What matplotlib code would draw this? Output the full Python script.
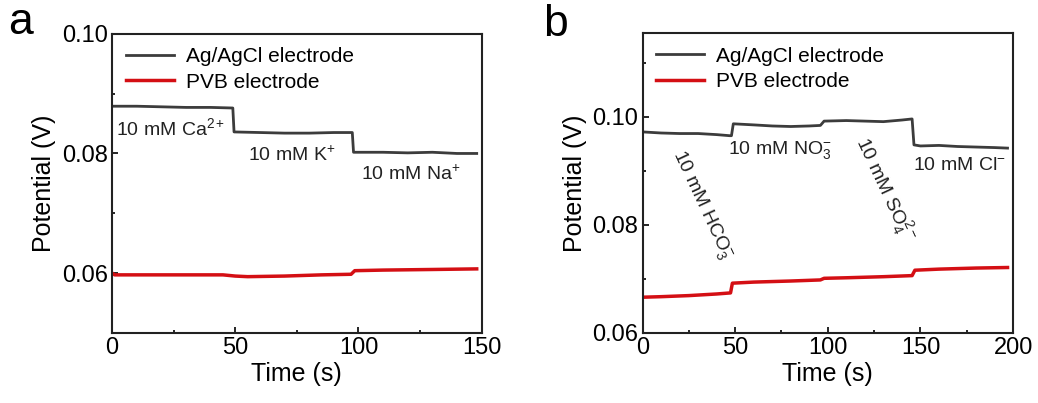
import matplotlib
matplotlib.use('Agg')
import matplotlib.pyplot as plt
from matplotlib.ticker import MultipleLocator

plt.rcParams['font.family'] = ['Liberation Sans', 'DejaVu Sans']
plt.rcParams['mathtext.fontset'] = 'custom'
plt.rcParams['mathtext.rm'] = 'Liberation Sans'
plt.rcParams['mathtext.it'] = 'Liberation Sans'

# ── Panel a: cations ─────────────────────────────────────────────────────────
ta_ag = [0, 10, 20, 30, 40, 49, 49.5, 60, 70, 80, 90, 97.5, 98, 110, 120, 130, 140, 148]
va_ag = [0.0879, 0.0879, 0.0878, 0.0877, 0.0877, 0.0876, 0.0836, 0.0835, 0.0834,
         0.0834, 0.0835, 0.0835, 0.0802, 0.0802, 0.0801, 0.0802, 0.0800, 0.0800]
ta_pvb = [0, 1, 10, 25, 45, 50, 55, 70, 85, 97, 98.5, 110, 130, 148]
va_pvb = [0.0600, 0.0597, 0.0597, 0.0597, 0.0597, 0.0595, 0.0594, 0.0595, 0.0597,
          0.0598, 0.0604, 0.0605, 0.0606, 0.0607]
labels_a = ['10 mM Ca$^{2+}$', '10 mM K$^{+}$', '10 mM Na$^{+}$']
pos_a = [(1.5, 0.0843), (55, 0.0797), (101, 0.0765)]

# ── Panel b: anions ──────────────────────────────────────────────────────────
tb_ag = [0, 10, 20, 30, 40, 47, 48, 49, 60, 70, 80, 90, 96, 98, 110, 120, 130,
         140, 145.5, 146.5, 150, 160, 170, 180, 190, 197]
vb_ag = [0.0972, 0.0970, 0.0969, 0.0969, 0.0967, 0.0965, 0.0965, 0.0987, 0.0985,
         0.0983, 0.0982, 0.0983, 0.0984, 0.0992, 0.0993, 0.0992, 0.0991, 0.0994,
         0.0996, 0.0948, 0.0946, 0.0947, 0.0945, 0.0944, 0.0943, 0.0942]
tb_pvb = [0, 10, 25, 40, 47.5, 48.5, 60, 80, 96, 98, 110, 130, 145.5, 147, 160, 180, 197]
vb_pvb = [0.0666, 0.0667, 0.0669, 0.0672, 0.0674, 0.0692, 0.0694, 0.0696, 0.0698,
          0.0701, 0.0702, 0.0704, 0.0706, 0.0716, 0.0718, 0.0720, 0.0721]
labels_b = ['10 mM NO$_{3}^{-}$', '10 mM Cl$^{-}$']
pos_b = [(46, 0.0939), (146, 0.0909)]
rot_labels_b = ['10 mM HCO$_{3}^{-}$', '10 mM SO$_{4}^{2-}$']
rot_pos_b = [(32, 0.0838), (131, 0.0866)]

BLACK = '#3c3c3c'
RED = '#d40f14'

fig = plt.figure(figsize=(10.38, 4.03), dpi=100)
ax_a = fig.add_axes([0.108, 0.174, 0.356, 0.742])
ax_b = fig.add_axes([0.619, 0.174, 0.357, 0.744])


def style(ax, xmax, ylim):
    ax.set_xlim(0, xmax)
    ax.set_ylim(*ylim)
    ax.xaxis.set_major_locator(MultipleLocator(50))
    ax.xaxis.set_minor_locator(MultipleLocator(25))
    ax.yaxis.set_major_locator(MultipleLocator(0.02))
    ax.yaxis.set_minor_locator(MultipleLocator(0.01))
    ax.tick_params(which='both', direction='in', labelsize=17, width=1.2)
    ax.tick_params(which='major', length=4, pad=3)
    ax.tick_params(which='minor', length=2.5)
    for s in ax.spines.values():
        s.set_linewidth(1.5)
        s.set_color('#222222')
    ax.set_xlabel('Time (s)', fontsize=18, labelpad=2)
    ax.set_ylabel('Potential (V)', fontsize=18, labelpad=4)
    ax.yaxis.set_major_formatter(plt.FuncFormatter(lambda v, p: f'{v:.2f}'))
    ax.legend(loc='upper left', fontsize=15, frameon=False, handlelength=2.3,
              handletextpad=0.6, borderaxespad=0.25, labelspacing=0.3)


ax_a.plot(ta_ag, va_ag, color=BLACK, lw=2, label='Ag/AgCl electrode')
ax_a.plot(ta_pvb, va_pvb, color=RED, lw=2.5, label='PVB electrode')
style(ax_a, 150, (0.05, 0.10))
for txt, (x, y) in zip(labels_a, pos_a):
    ax_a.text(x, y, txt, fontsize=14, color='#222222', ha='left', va='center')

ax_b.plot(tb_ag, vb_ag, color=BLACK, lw=2, label='Ag/AgCl electrode')
ax_b.plot(tb_pvb, vb_pvb, color=RED, lw=2.5, label='PVB electrode')
style(ax_b, 200, (0.06, 0.1155))
for txt, (x, y) in zip(labels_b, pos_b):
    ax_b.text(x, y, txt, fontsize=14, color='#222222', ha='left', va='center')
for txt, (x, y) in zip(rot_labels_b, rot_pos_b):
    ax_b.text(x, y, txt, fontsize=14, color='#222222', ha='center', va='center',
              rotation=-65, rotation_mode='anchor')

fig.text(0.008, 0.945, 'a', fontsize=32, ha='left', va='center')
fig.text(0.523, 0.94, 'b', fontsize=32, ha='left', va='center')

fig.savefig('out.png', dpi=100, facecolor='white')
plt.close(fig)
